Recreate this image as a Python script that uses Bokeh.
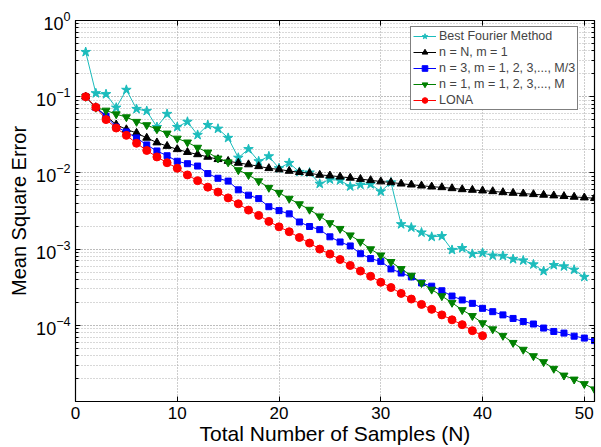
from bokeh.plotting import figure
from bokeh.models import (Range1d, FixedTicker, Legend, LegendItem, LogTickFormatter,
                          LogAxis, LinearAxis)
from bokeh.embed import file_html
from bokeh.resources import INLINE

# ---------------- data ----------------
n_fourier = list(range(1, 51))
mse_fourier = [0.386, 0.111, 0.108, 0.0718, 0.123, 0.069, 0.065, 0.040, 0.0594, 0.040,
               0.0469, 0.0315, 0.0425, 0.038, 0.0288, 0.0158, 0.0205, 0.0142, 0.0165, 0.0115,
               0.0135, 0.0103, 0.0101, 0.0072, 0.0082, 0.0080, 0.00665, 0.0070, 0.0071, 0.0057,
               0.0075, 0.00212, 0.00192, 0.00165, 0.00145, 0.00148, 0.000975, 0.00103, 0.000865, 0.000891,
               0.000822, 0.000814, 0.000738, 0.00071, 0.00063, 0.000515, 0.000617, 0.000593, 0.000536, 0.000431]

n_black = list(range(1, 52))
mse_black = [0.1, 0.0726, 0.056, 0.043, 0.0372, 0.0334, 0.0288, 0.0250, 0.0225, 0.0204,
             0.0187, 0.0175, 0.0162, 0.0151, 0.0143, 0.0135, 0.0129, 0.0122, 0.0115, 0.0111,
             0.0106, 0.0102, 0.0099, 0.0094, 0.0092, 0.0089, 0.0086, 0.0083, 0.0080, 0.0077,
             0.0075, 0.00721, 0.0070, 0.00679, 0.00659, 0.00646, 0.00627, 0.00608, 0.00597, 0.00585,
             0.00573, 0.00556, 0.00545, 0.00535, 0.00524, 0.00514, 0.00504, 0.00494, 0.00484, 0.00474,
             0.00465]

n_blue = list(range(1, 52))
mse_blue = [0.1, 0.072, 0.0555, 0.040, 0.0345, 0.0288, 0.0233, 0.0194, 0.0168, 0.0142,
            0.0132, 0.0123, 0.0098, 0.0085, 0.0078, 0.0060, 0.0051, 0.0046, 0.0036, 0.0032,
            0.0029, 0.00227, 0.00198, 0.0018, 0.00145, 0.00124, 0.0011, 0.00087, 0.00075, 0.00069,
            0.00055, 0.000485, 0.000431, 0.00036, 0.000326, 0.000284, 0.000242, 0.000215, 0.000194, 0.000167,
            0.000151, 0.000137, 0.000123, 0.000112, 0.000104, 9.2e-5, 8.3e-5, 7.9e-5, 7.2e-5, 6.8e-5,
            6.3e-5]

n_green = list(range(1, 52))
mse_green = [0.1, 0.072, 0.066, 0.059, 0.054, 0.047, 0.0425, 0.0375, 0.033, 0.0283,
             0.0252, 0.0215, 0.0186, 0.0155, 0.0138, 0.0109, 0.0094, 0.0078, 0.0064, 0.0055,
             0.0046, 0.0039, 0.0033, 0.0027, 0.0022, 0.00185, 0.00152, 0.00125, 0.00100, 0.00083,
             0.00068, 0.00055, 0.00045, 0.00036, 0.000295, 0.000242, 0.000198, 0.000159, 0.000133, 0.000107,
             8.9e-5, 7.3e-5, 5.9e-5, 4.8e-5, 3.95e-5, 3.3e-5, 2.7e-5, 2.2e-5, 1.95e-5, 1.7e-5,
             1.45e-5]

n_lona = list(range(1, 41))
mse_lona = [0.1, 0.0726, 0.0501, 0.0388, 0.0311, 0.0245, 0.0197, 0.0162, 0.0136, 0.0115,
            0.0094, 0.0079, 0.0065, 0.0056, 0.0047, 0.00393, 0.00325, 0.00277, 0.00231, 0.00196,
            0.00169, 0.00142, 0.0012, 0.001, 0.00086, 0.00073, 0.00061, 0.000515, 0.00044, 0.000367,
            0.000313, 0.000262, 0.000221, 0.000188, 0.000162, 0.000137, 0.000118, 0.000102, 8.5e-5, 7.3e-5]

labels = ["Best Fourier Method", "n = N, m = 1", "n = 3, m = 1, 2, 3,..., M/3",
          "n = 1, m = 1, 2, 3,..., M", "LONA"]
x_ticks = [0, 10, 20, 30, 40, 50]
y_major = [1e-4, 1e-3, 1e-2, 1e-1, 1e0]

FONT = "Liberation Sans"

p = figure(width=601, height=447, x_range=Range1d(0, 51), y_range=Range1d(1e-5, 1),
           y_axis_type="log", output_backend="svg", toolbar_location=None,
           min_border_left=75, min_border_right=7, min_border_top=20, min_border_bottom=41)
p.background_fill_color = "white"
p.border_fill_color = "white"
p.outline_line_color = "black"
p.outline_line_width = 1.2

series = [
    (n_fourier, mse_fourier, "#1cbcbc", "star", 10),
    (n_black, mse_black, "black", "triangle", 8),
    (n_blue, mse_blue, "blue", "square", 6),
    (n_green, mse_green, "green", "inverted_triangle", 8),
    (n_lona, mse_lona, "red", "circle", 8),
]
items = []
for (xs, ys, col, mk, sz), lab in zip(series, labels):
    ln = p.line(xs, ys, line_color=col, line_width=1)
    sc = p.scatter(xs, ys, marker=mk, size=sz, fill_color=col, line_color=col)
    items.append(LegendItem(label=lab, renderers=[ln, sc]))

# axes
minor = [k * 10.0 ** e for e in range(-5, 0) for k in range(2, 10)]
xax = p.xaxis[0]
yax = p.yaxis[0]
xax.ticker = FixedTicker(ticks=x_ticks)
yax.ticker = FixedTicker(ticks=y_major, minor_ticks=minor)
yax.formatter = LogTickFormatter()

# mirror axes (ticks only) on the right and top, as in the original frame
right_ax = LogAxis(ticker=FixedTicker(ticks=y_major, minor_ticks=minor))
top_ax = LinearAxis(ticker=FixedTicker(ticks=x_ticks))
for ax in (right_ax, top_ax):
    ax.major_label_text_font_size = "1px"
    ax.major_label_text_alpha = 0
    ax.major_label_standoff = 0
p.add_layout(right_ax, "right")
p.add_layout(top_ax, "above")

for ax in (xax, yax, right_ax, top_ax):
    ax.axis_line_color = "black"
    ax.major_tick_in = 5
    ax.major_tick_out = 0
    ax.minor_tick_in = 3
    ax.minor_tick_out = 0
    ax.major_tick_line_color = "black"
    ax.minor_tick_line_color = "black"
    ax.major_label_text_font = FONT
    ax.major_label_text_color = "black"
    ax.axis_label_text_font = FONT
    ax.axis_label_text_font_style = "normal"
    ax.axis_label_text_color = "black"

xax.major_label_text_font_size = "17px"
yax.major_label_text_font_size = "18px"
xax.axis_label = "Total Number of Samples (N)"
yax.axis_label = "Mean Square Error"
xax.axis_label_text_font_size = "21px"
yax.axis_label_text_font_size = "20px"
xax.major_label_standoff = 5
xax.axis_label_standoff = 0
yax.major_label_standoff = 5
yax.axis_label_standoff = 3

# grids (dotted, MATLAB-like)
p.xgrid.grid_line_color = "#9a9a9a"
p.xgrid.grid_line_dash = "1 2"
p.ygrid.grid_line_color = "#7a7a7a"
p.ygrid.grid_line_dash = "1 2"
p.ygrid.minor_grid_line_color = "#b0b0b0"
p.ygrid.minor_grid_line_dash = "1 2"

legend = Legend(items=items, location=(335, 291),
                label_text_font=FONT, label_text_font_size="12.5px",
                glyph_width=23, glyph_height=14, label_height=14, spacing=2,
                padding=2, label_standoff=3, margin=0,
                border_line_color="black", border_line_width=1.2,
                background_fill_color="white", background_fill_alpha=1)
p.add_layout(legend)

open("out.html", "w").write(file_html(p, INLINE))
